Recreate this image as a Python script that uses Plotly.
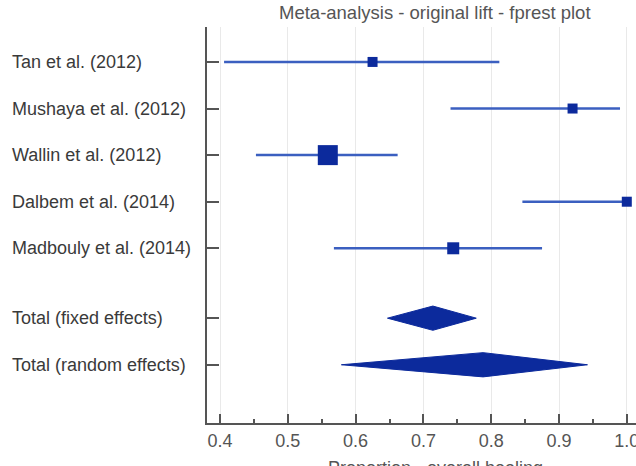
import plotly.graph_objects as go

# ---- data ----
studies = ["Tan et al. (2012)", "Mushaya et al. (2012)", "Wallin et al. (2012)",
           "Dalbem et al. (2014)", "Madbouly et al. (2014)"]
est = [0.625, 0.920, 0.559, 1.000, 0.744]
lo = [0.406, 0.740, 0.453, 0.846, 0.568]
hi = [0.812, 0.990, 0.662, 1.000, 0.875]
weight_px = [10, 10, 20, 10, 12]  # marker size reflects study weight

totals = ["Total (fixed effects)", "Total (random effects)"]
tot_est = [0.714, 0.788]
tot_lo = [0.647, 0.579]
tot_hi = [0.778, 0.942]

title = "Meta-analysis - original lift - fprest plot"
xtitle = "Proportion - overall healing"
xticks = [0.4, 0.5, 0.6, 0.7, 0.8, 0.9, 1.0]
xticklabels = ["0.4", "0.5", "0.6", "0.7", "0.8", "0.9", "1.0"]

# ---- layout helpers ----
study_pos = list(range(len(studies)))
total_pos = [len(studies) + 0.5, len(studies) + 1.5]
W, H = 636, 466
ml, mr, mt, mb = 207, 0, 27, 43
line_col = "#3b5fc0"
mark_col = "#0c2a9c"
font = "Liberation Sans, Arial, Helvetica, sans-serif"
half_h = 0.26

fig = go.Figure()

# CI lines
for y, a, b in zip(study_pos, lo, hi):
    fig.add_trace(go.Scatter(x=[a, b], y=[y, y], mode="lines",
                             line=dict(color=line_col, width=2.5),
                             hoverinfo="skip", showlegend=False))
# point estimates
fig.add_trace(go.Scatter(x=est, y=study_pos, mode="markers",
                         marker=dict(symbol="square", size=weight_px, color=mark_col,
                                     opacity=1, line=dict(width=0)),
                         cliponaxis=False, showlegend=False))
# diamonds
for y, c, a, b in zip(total_pos, tot_est, tot_lo, tot_hi):
    fig.add_trace(go.Scatter(x=[a, c, b, c, a], y=[y, y - half_h, y, y + half_h, y],
                             mode="lines", fill="toself", fillcolor=mark_col,
                             line=dict(color=mark_col, width=1),
                             hoverinfo="skip", showlegend=False))

# left-aligned row labels
plot_w = W - ml - mr
for lab, y in zip(studies + totals, study_pos + total_pos):
    fig.add_annotation(text=lab, x=(10 - ml) / plot_w, xref="paper", y=y, yref="y",
                       xanchor="left", yanchor="middle", showarrow=False,
                       font=dict(family=font, size=18, color="#3a3a3a"))

plot_h = H - mt - mb
fig.add_annotation(text=title, x=(435 - ml) / plot_w, xref="paper",
                   y=1 + (mt - 12) / plot_h, yref="paper", xanchor="center", yanchor="middle",
                   showarrow=False, font=dict(family=font, size=18.5, color="#555555"))
fig.add_annotation(text=xtitle, x=(435 - ml) / plot_w, xref="paper",
                   y=-(456 - (H - mb)) / plot_h, yref="paper", xanchor="center", yanchor="top",
                   showarrow=False, font=dict(family=font, size=18, color="#555555"))

px_per_unit = 678.0
x0 = 0.4 - 13 / px_per_unit
x1 = x0 + plot_w / px_per_unit

fig.update_layout(
    template="none",
    width=W, height=H,
    margin=dict(l=ml, r=mr, t=mt, b=mb, pad=0),
    paper_bgcolor="white", plot_bgcolor="white",
    showlegend=False,
    xaxis=dict(range=[x0, x1], tickvals=xticks, ticktext=xticklabels,
               ticks="inside", ticklen=9, tickwidth=2, tickcolor="#555555",
               minor=dict(dtick=0.05, tick0=0.4, ticks="inside", ticklen=4, tickwidth=2,
                          tickcolor="#555555", showgrid=False),
               showgrid=True, gridcolor="#e9e9e9", gridwidth=1,
               showline=True, linecolor="#555555", linewidth=2, mirror=False,
               zeroline=False, automargin=False, ticklabeloverflow="allow",
               tickfont=dict(family=font, size=18, color="#555555")),
    yaxis=dict(range=[len(studies) + 2.75, -0.75], tickvals=study_pos + total_pos,
               showticklabels=False, ticks="inside", ticklen=12, tickwidth=2,
               tickcolor="#555555", showgrid=False, zeroline=False,
               showline=True, linecolor="#555555", linewidth=2, automargin=False),
)

fig.write_html("out.html")
